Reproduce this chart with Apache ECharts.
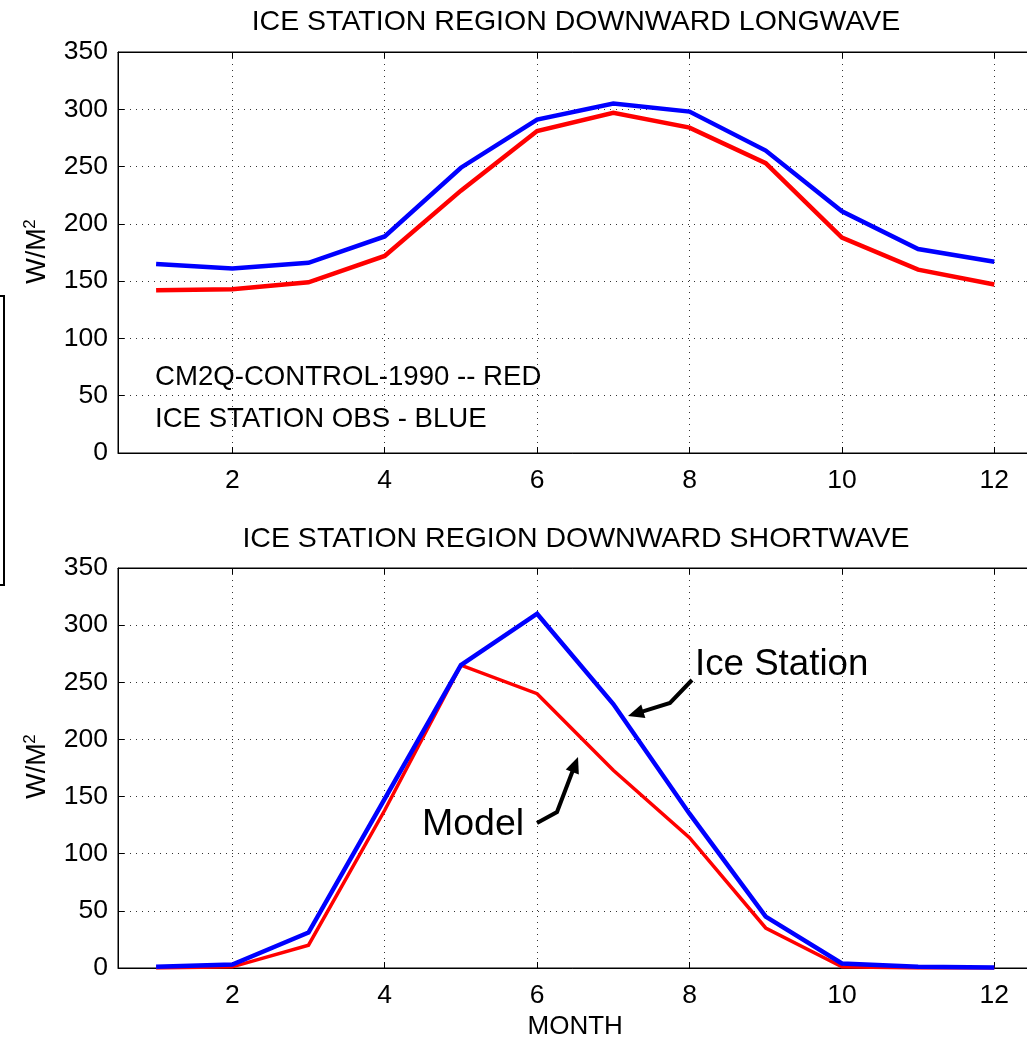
<!DOCTYPE html>
<html><head><meta charset="utf-8">
<script src="https://cdn.jsdelivr.net/npm/echarts@6/dist/echarts.min.js"></script>
<style>html,body{margin:0;padding:0;background:#fff}#c{width:1027px;height:1040px}</style>
</head><body><div id="c"></div>
<script>
const months = [1,2,3,4,5,6,7,8,9,10,11,12];
const lwModel = [142,143,149,172,229,281,297,284,253,188,160,147];
const lwObs   = [165,161,166,189,249,291,305,298,264,211,178,167];
const swModel = [0,1,20,138,265,240,173,114,35,1,0,0];
const swObs   = [1,3,31,148,265,310,231,135,45,4,1,0.5];
const yTicks = [0,50,100,150,200,250,300,350];
const xTickLabels = [2,4,6,8,10,12];

const FONT = '"Liberation Sans", Arial, sans-serif';
const chart = echarts.init(document.getElementById('c'), null, {renderer:'canvas'});
const pair = (xs, ys) => xs.map((x,i)=>[x, ys[i]]);

function xAx(gi, pos, labels, name) {
  return {
    gridIndex: gi, type:'value', position: pos, min:0.5, max:12.5, interval:2,
    axisLine:{show:true, onZero:false, lineStyle:{color:'#000', width:1}},
    axisTick:{show:true, inside:true, length:6, lineStyle:{color:'#000'},
      customValues: xTickLabels},
    axisLabel:{show:labels, color:'#000', fontFamily:FONT, fontSize:26.5, margin:14,
      customValues: xTickLabels},
    splitLine:{show: pos==='bottom', lineStyle:{color:'#333', type:[1,5], width:1}},
    name: name || '', nameLocation:'middle', nameGap:46,
    nameTextStyle:{color:'#000', fontFamily:FONT, fontSize:26}
  };
}
function yAx(gi, pos, labels) {
  return {
    gridIndex: gi, type:'value', position: pos, min:0, max:350, interval:50,
    axisLine:{show:true, lineStyle:{color:'#000', width:1}},
    axisTick:{show:true, inside:true, length:6, lineStyle:{color:'#000'}},
    axisLabel:{show:labels, color:'#000', fontFamily:FONT, fontSize:26.5, margin:10},
    splitLine:{show: pos==='left', lineStyle:{color:'#333', type:[1,5], width:1}}
  };
}
function ser(xi, yi, data, color, w) {
  return {type:'line', xAxisIndex:xi, yAxisIndex:yi, data, symbol:'none',
    lineStyle:{color, width:w, join:'miter'}, z:5, animation:false};
}

const option = {
  animation:false,
  backgroundColor:'#fff',
  grid:[
    {left:118, top:52, right:-5.4, height:401, show:true, borderColor:'#000', borderWidth:1,
      containLabel:false, outerBoundsMode:'none'},
    {left:118, top:568, right:-5.4, height:400, show:true, borderColor:'#000', borderWidth:1,
      containLabel:false, outerBoundsMode:'none'}
  ],
  title:[
    {text:'ICE STATION REGION DOWNWARD LONGWAVE', left:571, top:3, textAlign:'center',
      textStyle:{fontFamily:FONT, fontSize:28.5, fontWeight:'normal', color:'#000'}},
    {text:'ICE STATION REGION DOWNWARD SHORTWAVE', left:571, top:520, textAlign:'center',
      textStyle:{fontFamily:FONT, fontSize:28.5, fontWeight:'normal', color:'#000'}}
  ],
  xAxis:[ xAx(0,'bottom',true), xAx(0,'top',false), xAx(1,'bottom',true,'MONTH'), xAx(1,'top',false) ],
  yAxis:[ yAx(0,'left',true), yAx(0,'right',false), yAx(1,'left',true), yAx(1,'right',false) ],
  series:[
    ser(0,0,pair(months,lwModel),'#ff0000',4.5),
    ser(0,0,pair(months,lwObs),'#0000ff',4.5),
    ser(2,2,pair(months,swModel),'#ff0000',3.5),
    ser(2,2,pair(months,swObs),'#0000ff',4.5)
  ]
};
chart.setOption(option);

function arrow(pts, w) {
  const n = pts.length;
  const [x1,y1] = pts[n-2], [x2,y2] = pts[n-1];
  const dx = x2-x1, dy = y2-y1, L = Math.hypot(dx,dy);
  const ux = dx/L, uy = dy/L, hl = 16, hw = 7;
  const bx = x2-ux*hl, by = y2-uy*hl;
  const line = pts.slice(0,n-1).concat([[bx+ux*2, by+uy*2]]);
  return [
    {type:'polyline', shape:{points:line}, style:{stroke:'#000', lineWidth:w, fill:null}, z:20},
    {type:'polygon', shape:{points:[[x2,y2],[bx-uy*hw,by+ux*hw],[bx+uy*hw,by-ux*hw]]},
      style:{fill:'#000'}, z:20}
  ];
}
const ylab = (cy) => ([
  {type:'text', x:38, y:cy, rotation:Math.PI/2, z:10,
    style:{text:'W/M', fontFamily:FONT, fontSize:27, fill:'#000',
      textAlign:'center', textVerticalAlign:'middle'}},
  {type:'text', x:30, y:cy-32, rotation:Math.PI/2, z:10,
    style:{text:'2', fontFamily:FONT, fontSize:17, fill:'#000',
      textAlign:'center', textVerticalAlign:'middle'}}
]);

chart.setOption({graphic:[
  ...ylab(256), ...ylab(771),
  {type:'text', x:155, y:377, z:10, style:{text:'CM2Q-CONTROL-1990 -- RED', fontFamily:FONT, fontSize:27.6, fill:'#000', textVerticalAlign:'middle'}},
  {type:'text', x:155, y:419, z:10, style:{text:'ICE STATION OBS - BLUE', fontFamily:FONT, fontSize:27.6, fill:'#000', textVerticalAlign:'middle'}},
  {type:'text', x:695, y:665, z:10, style:{text:'Ice Station', fontFamily:FONT, fontSize:36.7, fill:'#000', textVerticalAlign:'middle'}},
  {type:'text', x:422, y:825, z:10, style:{text:'Model', fontFamily:FONT, fontSize:37.5, fill:'#000', textVerticalAlign:'middle'}},
  ...arrow([[692,680],[670,703],[628,716]], 4),
  ...arrow([[537,823],[557,812],[578,757]], 4),
  {type:'polyline', shape:{points:[[0,296],[4,296],[4,585],[0,585]]}, style:{stroke:'#000', lineWidth:2, fill:null}, z:10}
]});
</script></body></html>
